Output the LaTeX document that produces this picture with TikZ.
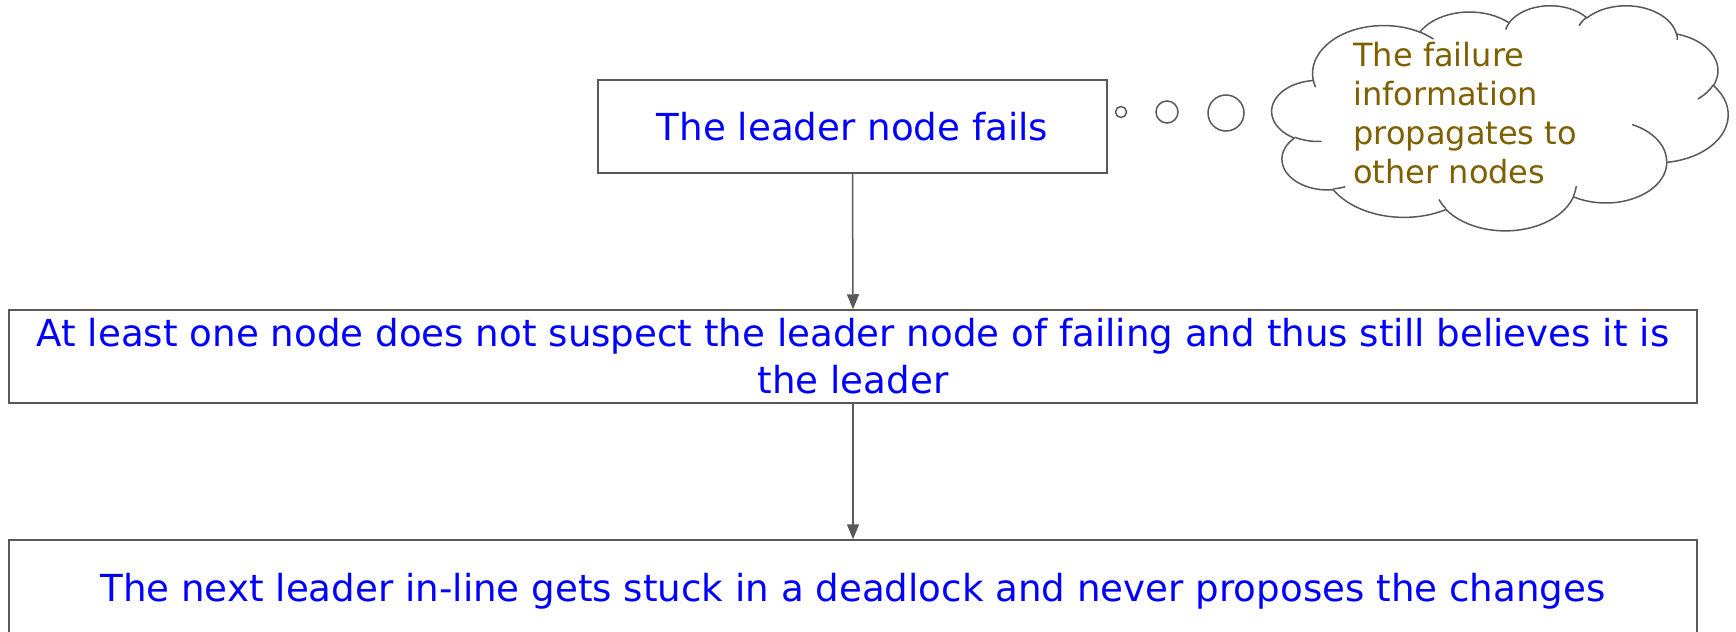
\documentclass[tikz,border=0pt]{standalone}
\usepackage{fontspec}
\setmainfont{DejaVu Sans}
\usetikzlibrary{arrows.meta}
\definecolor{edgegray}{HTML}{595959}
\definecolor{thoughtbrown}{HTML}{7F6000}

% Elliptic arc given by its radii, a start angle and a sweep, both measured
% as geometric angles from the centre; it is appended to \oopath.
\newcommand\ooarc[4]{%
  \pgfmathsetmacro\ooA{atan2((#1)*sin(#3),(#2)*cos(#3))}%
  \pgfmathsetmacro\ooB{atan2((#1)*sin((#3)+(#4)),(#2)*cos((#3)+(#4)))}%
  \pgfmathsetmacro\ooD{\ooB-\ooA}%
  \pgfmathsetmacro\ooD{\ooD+360*round(((#4)-\ooD)/360)}%
  \xdef\oopath{\oopath arc[start angle=\ooA, delta angle=\ooD, x radius=#1, y radius=#2]}%
}
% A single open arc starting at a given point.
\newcommand\ootail[6]{%
  \gdef\oopath{(#1,#2)}%
  \ooarc{#3}{#4}{#5}{#6}%
  \edef\ootemp{\noexpand\draw[cloudline] \oopath;}\ootemp
}

\begin{document}
\begin{tikzpicture}[x=0.5pt,y=-0.5pt,
  flowbox/.style={draw=edgegray, line width=0.75pt, fill=white, text=blue,
    font=\fontsize{18.6}{23.5}\selectfont, align=center, inner sep=0pt},
  link/.style={draw=edgegray, line width=0.75pt,
    -{Triangle[length=7.5pt,width=6pt]}},
  bubble/.style={circle, draw=edgegray, line width=0.75pt, inner sep=0pt},
  cloudline/.style={draw=edgegray, line width=0.75pt, line join=round},
  thoughttext/.style={text=thoughtbrown, align=left, inner sep=0pt,
    font=\fontsize{16}{19.5}\selectfont}]
\clip (0,0) rectangle (1736,632);

% flow of the failure
\node[flowbox, minimum width=254.5pt, minimum height=46.5pt] (fail) at (852.5,126.5)
  {The leader node fails};
\node[flowbox, minimum width=844pt, minimum height=46.5pt] (suspect) at (853,356.5)
  {At least one node does not suspect the leader node of failing and thus still believes it is\\the leader};
\node[flowbox, minimum width=844pt, minimum height=51pt] (stuck) at (853,591)
  {The next leader in-line gets stuck in a deadlock and never proposes the changes};

\draw[link] (fail.south) -- (suspect.north);
\draw[link] (suspect.south) -- (stuck.north);

% thought bubbles leading to the cloud
\node[bubble, minimum size=5.5pt] (b1) at (1121,112) {};
\node[bubble, minimum size=11pt] (b2) at (1167,112) {};
\node[bubble, minimum size=18pt] (b3) at (1226,113) {};

% cloud outline, drawn in a 4320 x 4320 frame
\begin{scope}[shift={(1272,5)}, x=0.052778pt, y=-0.026042pt]
  \coordinate (cloudorigin) at (0,0);
  \gdef\oopath{(390.0,1437.0)}
  \ooarc{675.3}{919.0}{-190.48748}{123.78053}
  \ooarc{533.3}{726.7}{-144.10238}{89.94523}
  \ooarc{436.5}{594.5}{-145.80792}{99.72302}
  \ooarc{485.7}{659.5}{-130.98607}{117.24173}
  \ooarc{533.3}{727.3}{-78.70888}{109.02692}
  \ooarc{677.5}{922.0}{-46.26725}{130.269}
  \ooarc{578.5}{786.7}{0.62502}{114.03333}
  \ooarc{675.2}{921.5}{22.4516}{115.17255}
  \ooarc{772.0}{1054.3}{66.24263}{75.71102}
  \ooarc{436.0}{591.8}{-274.94208}{146.73557}
  \ooarc{434.5}{594.5}{-246.8285}{152.51885}
  \edef\ootemp{\noexpand\draw[cloudline] \oopath -- cycle;}\ootemp
  % inner puff edges
  \ootail{469.3}{2617.7}{434.5}{594.5}{86.742}{26.4295}
  \ootail{692.8}{3489.9}{436.0}{591.8}{73.61047}{11.44747}
  \ootail{1647.8}{3909.0}{675.2}{921.5}{137.62415}{14.0811}
  \ootail{2882.7}{3475.1}{675.2}{921.5}{6.45327}{15.99835}
  \ootail{3412.9}{2295.4}{578.5}{786.7}{-70.29235}{70.91737}
  \ootail{4179.8}{1535.4}{533.3}{727.3}{30.31803}{27.7515}
  \ootail{3832.4}{542.6}{485.7}{659.5}{-13.74433}{14.8589}
  \ootail{2907.8}{395.2}{485.7}{659.5}{-149.18145}{18.19537}
  \ootail{2214.1}{472.0}{436.5}{594.5}{-163.49427}{17.68635}
  \ootail{1400.0}{519.2}{675.3}{919.0}{-66.70695}{12.31935}
  \ootail{412.7}{1578.9}{675.3}{919.0}{157.65435}{11.85817}
\end{scope}

\node[thoughttext, anchor=west] (note) at (1353,113)
  {The failure\\information\\propagates to\\other nodes};
\end{tikzpicture}
\end{document}
